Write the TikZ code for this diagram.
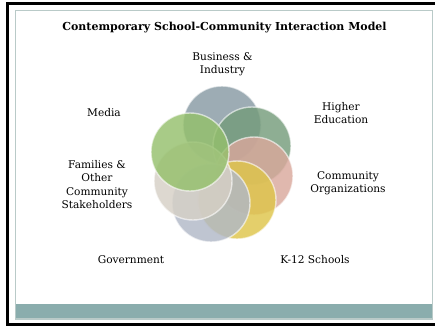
\documentclass[tikz,border=0pt]{standalone}
\usepackage{fontspec}
\setmainfont{DejaVu Serif}
\usetikzlibrary{positioning}

\definecolor{bizgray}{HTML}{879AA3}
\definecolor{edugreen}{HTML}{759C7B}
\definecolor{orgpink}{HTML}{D9A89C}
\definecolor{schoolyellow}{HTML}{DEC54A}
\definecolor{govgray}{HTML}{B1B8C7}
\definecolor{familybeige}{HTML}{D6D0C6}
\definecolor{mediagreen}{HTML}{95C06C}
\definecolor{slideline}{HTML}{B9CAC8}
\definecolor{slidebar}{HTML}{8AADAD}

\begin{document}
\begin{tikzpicture}[
    x=1pt, y=1pt,
    ring/.style={
        circle,
        minimum size=78pt,
        inner sep=0pt,
        fill opacity=0.82,
        draw=white,
        draw opacity=0.6,
        line width=1.4pt
    },
    tag/.style={
        align=center,
        font=\fontsize{10.6}{13.2}\selectfont
    }
]

\useasboundingbox (0,0) rectangle (435,327);

% slide frame
\draw[line width=2.2pt] (7.5,2.5) rectangle (470,323.5);
\fill[slidebar] (15.5,8) rectangle (432.5,23);
\draw[slideline, line width=1.2pt] (15.5,8) rectangle (432.5,316.5);

\node[font=\fontsize{11}{13}\selectfont\bfseries] (title) at (224.5,299.5)
    {Contemporary School-Community Interaction Model};

% the ring of partners, drawn clockwise from the top
\node[ring, fill=bizgray] (business) at (222,202) {};
\node[ring, fill=edugreen] (higher) at (252,181) {};
\node[ring, fill=orgpink] (community) at (254,151) {};
\node[ring, fill=schoolyellow] (schools) at (237,127) {};
\node[ring, fill=govgray] (government) at (211,124) {};
\node[ring, fill=familybeige] (families) at (193,146) {};
\node[ring, fill=mediagreen] (media) at (190,175) {};

% labels
\node[tag] (business-lbl) at (222.5,263) {Business \&\\Industry};
\node[tag] (higher-lbl) at (341,214) {Higher\\Education};
\node[tag] (community-lbl) at (348,143.5) {Community\\Organizations};
\node[tag] (schools-lbl) at (315,67) {K-12 Schools};
\node[tag] (government-lbl) at (131,67) {Government};
\node[tag] (families-lbl) at (97,142.5)
    {Families \&\\Other\\Community\\Stakeholders};
\node[tag] (media-lbl) at (104,214) {Media};

\end{tikzpicture}
\end{document}
